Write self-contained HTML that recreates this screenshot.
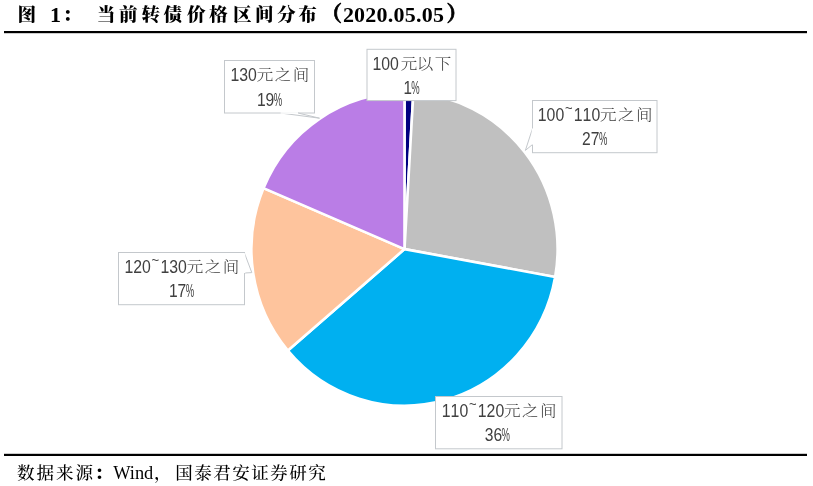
<!DOCTYPE html>
<html lang="zh-CN"><head><meta charset="utf-8"><title>图 1：当前转债价格区间分布（2020.05.05）</title>
<style>
html,body{margin:0;padding:0;background:#fff;}
body{width:813px;height:486px;overflow:hidden;}
svg{display:block;}
text{white-space:pre;}
.d{font-family:"Liberation Sans",sans-serif;font-size:18px;fill:#404040;font-kerning:none;}
.d1{font-family:"Liberation Sans",sans-serif;font-size:20px;fill:#404040;font-kerning:none;}
.t1{font-family:"Liberation Sans",sans-serif;font-size:16.7px;fill:#404040;}
.k{font-family:"Liberation Serif","Noto Serif CJK SC",serif;font-size:16.5px;font-weight:300;fill:#404040;}
.tb{font-family:"Liberation Serif","Noto Serif CJK SC",serif;font-size:18.6px;font-weight:900;fill:#000;}
.tp{font-family:"Liberation Serif","Noto Serif CJK SC",serif;font-size:21px;font-weight:900;fill:#000;stroke:#000;stroke-width:0.7px;}
.tl{font-family:"Liberation Serif",serif;font-size:22px;font-weight:700;fill:#000;}
.fk{font-family:"Liberation Serif","Noto Serif CJK SC",serif;font-size:17.5px;font-weight:500;fill:#000;}
.fl{font-family:"Liberation Serif",serif;font-size:18.4px;fill:#000;}
</style></head><body>
<svg width="813" height="486" viewBox="0 0 813 486">
<rect width="813" height="486" fill="#fff"/>
<g stroke="#fff" stroke-width="2.6" stroke-linejoin="round">
<path d="M404.5 249.1L404.50 92.50A153.1 156.6 0 0 1 413.35 92.76Z" fill="#000080"/>
<path d="M404.5 249.1L413.35 92.76A153.1 156.6 0 0 1 555.15 276.99Z" fill="#C0C0C0"/>
<path d="M404.5 249.1L555.15 276.99A153.1 156.6 0 0 1 287.89 350.58Z" fill="#00B0F0"/>
<path d="M404.5 249.1L287.89 350.58A153.1 156.6 0 0 1 263.46 188.17Z" fill="#FEC49D"/>
<path d="M404.5 249.1L263.46 188.17A153.1 156.6 0 0 1 404.50 92.50Z" fill="#BA7DE6"/>
</g>
<rect x="224.5" y="60.5" width="90.0" height="52.5" fill="#fff" stroke="#c4c8cc" stroke-width="1"/>
<path d="M280.5 113L319.5 118.2L298 113" fill="#fff" stroke="#c4c8cc" stroke-width="1"/>
<path d="M280.5 113L298 113" stroke="#fff" stroke-width="1.6"/>
<text transform="matrix(1 0 0 0.9 0 8.12)"><tspan class="d1" x="230.5" y="81.2" textLength="26.4" lengthAdjust="spacingAndGlyphs">130</tspan><tspan class="k" x="265.0 283.0 301.0" y="80.3" text-anchor="middle">元之间</tspan></text>
<text y="106.0"><tspan class="d" x="256.9" textLength="17.4" lengthAdjust="spacingAndGlyphs">19</tspan><tspan class="d" x="273.7" textLength="8.4" lengthAdjust="spacingAndGlyphs">%</tspan></text>
<rect x="367" y="49.3" width="89.0" height="51.3" fill="#fff" stroke="#c4c8cc" stroke-width="1"/>
<text transform="matrix(1 0 0 0.9 0 7.00)"><tspan class="d1" x="372.5" y="70.0" textLength="26.4" lengthAdjust="spacingAndGlyphs">100</tspan><tspan class="k" x="409.0 425.0 443.0" y="69.1" text-anchor="middle">元以下</tspan></text>
<text y="94.0"><tspan class="d" x="403.4" textLength="8.4" lengthAdjust="spacingAndGlyphs">1</tspan><tspan class="d" x="411.2" textLength="8.4" lengthAdjust="spacingAndGlyphs">%</tspan></text>
<rect x="532.5" y="100.5" width="124.5" height="52.2" fill="#fff" stroke="#c4c8cc" stroke-width="1"/>
<path d="M532.5 128.5L525.4 150.4L532.5 144.5" fill="#fff" stroke="#c4c8cc" stroke-width="1"/>
<path d="M532.5 128.5L532.5 144.5" stroke="#fff" stroke-width="1.6"/>
<text transform="matrix(1 0 0 0.9 0 12.12)"><tspan class="d1" x="537.8" y="121.2" textLength="26.4" lengthAdjust="spacingAndGlyphs">100</tspan><tspan class="t1" x="564.9" y="112.1" textLength="7.6" lengthAdjust="spacingAndGlyphs">~</tspan><tspan class="d1" x="573.8" y="121.2" textLength="26.4" lengthAdjust="spacingAndGlyphs">110</tspan><tspan class="k" x="608.2 626.2 644.2" y="120.3" text-anchor="middle">元之间</tspan></text>
<text y="145.2"><tspan class="d" x="582.1" textLength="17.4" lengthAdjust="spacingAndGlyphs">27</tspan><tspan class="d" x="598.9" textLength="8.4" lengthAdjust="spacingAndGlyphs">%</tspan></text>
<rect x="118.5" y="252.5" width="126.0" height="52.2" fill="#fff" stroke="#c4c8cc" stroke-width="1"/>
<path d="M244.5 253.2L251.8 272.6L244.5 273" fill="#fff" stroke="#c4c8cc" stroke-width="1"/>
<path d="M244.5 253.2L244.5 273" stroke="#fff" stroke-width="1.6"/>
<text transform="matrix(1 0 0 0.9 0 27.32)"><tspan class="d1" x="124.5" y="273.2" textLength="26.4" lengthAdjust="spacingAndGlyphs">120</tspan><tspan class="t1" x="151.6" y="264.1" textLength="7.6" lengthAdjust="spacingAndGlyphs">~</tspan><tspan class="d1" x="160.5" y="273.2" textLength="26.4" lengthAdjust="spacingAndGlyphs">130</tspan><tspan class="k" x="195.0 213.0 231.0" y="272.3" text-anchor="middle">元之间</tspan></text>
<text y="297.2"><tspan class="d" x="168.9" textLength="17.4" lengthAdjust="spacingAndGlyphs">17</tspan><tspan class="d" x="185.7" textLength="8.4" lengthAdjust="spacingAndGlyphs">%</tspan></text>
<rect x="435.5" y="396.5" width="126.5" height="52.3" fill="#fff" stroke="#c4c8cc" stroke-width="1"/>
<text transform="matrix(1 0 0 0.9 0 41.72)"><tspan class="d1" x="441.8" y="417.2" textLength="26.4" lengthAdjust="spacingAndGlyphs">110</tspan><tspan class="t1" x="468.9" y="408.1" textLength="7.6" lengthAdjust="spacingAndGlyphs">~</tspan><tspan class="d1" x="477.8" y="417.2" textLength="26.4" lengthAdjust="spacingAndGlyphs">120</tspan><tspan class="k" x="512.2 530.2 548.2" y="416.3" text-anchor="middle">元之间</tspan></text>
<text y="441.2"><tspan class="d" x="484.8" textLength="17.4" lengthAdjust="spacingAndGlyphs">36</tspan><tspan class="d" x="501.6" textLength="8.4" lengthAdjust="spacingAndGlyphs">%</tspan></text>
<rect x="4" y="31" width="803" height="2.2" fill="#000"/>
<rect x="4" y="453.8" width="803" height="2.2" fill="#000"/>
<text y="21.3"><tspan class="tb" x="26.8" text-anchor="middle">图</tspan><tspan class="tl" x="44.5" y="21.8"> 1</tspan><tspan class="tb" x="62.6" y="21.3">：</tspan><tspan class="tb" x="106.1 128.2 150.75 172.85 196.2 218.2 242.2 264.2 286.2 307.6" y="21.3" text-anchor="middle">当前转债价格区间分布</tspan><tspan class="tp" x="321" y="21.0">（</tspan><tspan class="tl" x="342.9" y="21.8" textLength="101" lengthAdjust="spacing">2020.05.05</tspan><tspan class="tp" x="446.5" y="21.0">）</tspan></text>
<text y="479"><tspan class="fk" x="17.0 36.5 56.0 75.5">数据来源</tspan><tspan class="fk" x="94.6" style="font-weight:900">：</tspan><tspan class="fl" x="113.2" y="478.8">Wind</tspan><tspan class="fk" x="154" y="479">，</tspan><tspan class="fk" x="175.3 194.3 213.3 232.3 251.3 270.3 289.3 308.3">国泰君安证券研究</tspan></text>
</svg>
</body></html>
